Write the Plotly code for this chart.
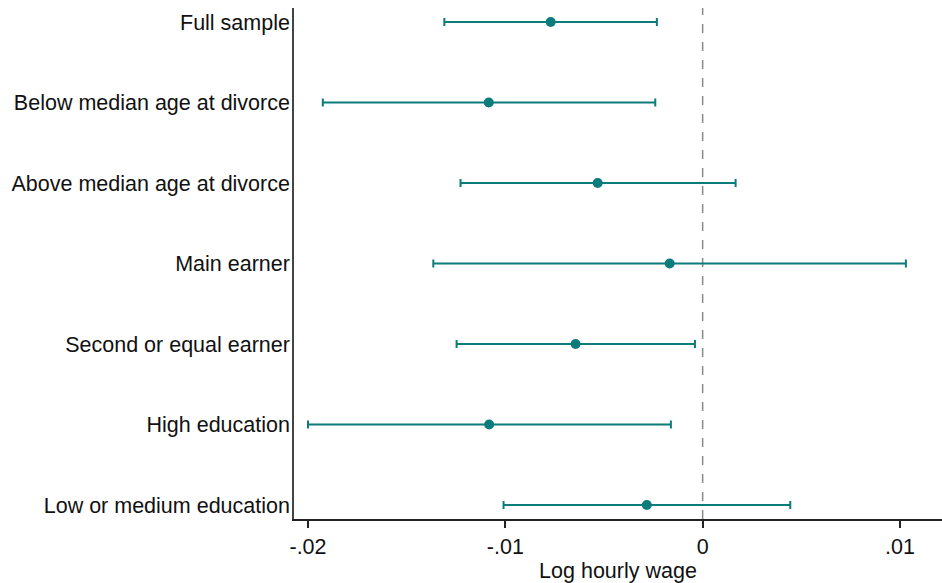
import plotly.graph_objects as go

labels = ["Full sample", "Below median age at divorce", "Above median age at divorce",
          "Main earner", "Second or equal earner", "High education", "Low or medium education"]
coef = [-0.0077, -0.01084, -0.00532, -0.00167, -0.00644, -0.01082, -0.00283]
ci_low = [-0.01309, -0.01925, -0.01227, -0.01365, -0.01247, -0.0200, -0.01009]
ci_high = [-0.00232, -0.0024, 0.00167, 0.0103, -0.00039, -0.00161, 0.00444]
xtick_vals = [-0.02, -0.01, 0, 0.01]
xtick_text = ["-.02", "-.01", "0", ".01"]

teal = "#0b7b7b"
ypos = list(range(1, len(labels) + 1))

fig = go.Figure()
fig.add_trace(go.Scatter(
    x=coef, y=ypos, mode="markers",
    marker=dict(color=teal, size=10),
    error_x=dict(type="data", symmetric=False,
                 array=[h - c for h, c in zip(ci_high, coef)],
                 arrayminus=[c - l for c, l in zip(coef, ci_low)],
                 color=teal, thickness=2, width=4),
    showlegend=False, hoverinfo="skip"))

fig.add_shape(type="line", xref="x", yref="paper", x0=0, x1=0, y0=0, y1=1,
              line=dict(color="#8a8a8a", width=1.5, dash="dash"), layer="below")

fig.update_layout(
    width=942, height=583,
    margin=dict(l=294, r=0, t=8, b=64),
    paper_bgcolor="white", plot_bgcolor="white",
    font=dict(family="Liberation Sans, Arial, sans-serif", size=21.5, color="#111"),
    xaxis=dict(range=[-0.02071, 0.01213], tickvals=xtick_vals, ticktext=xtick_text,
               showgrid=False, zeroline=False, showline=True, linecolor="#222", linewidth=1.5,
               ticks="outside", ticklen=7, tickwidth=1.5, tickcolor="#222",
               title=dict(text="Log hourly wage", standoff=6, font=dict(size=21.5))),
    yaxis=dict(range=[7.174, 0.826], tickvals=ypos, ticktext=labels,
               showgrid=False, zeroline=False, showline=True, linecolor="#444", linewidth=1.5,
               ticks="", ticklabelstandoff=-2),
)

fig.write_html("out.html")
